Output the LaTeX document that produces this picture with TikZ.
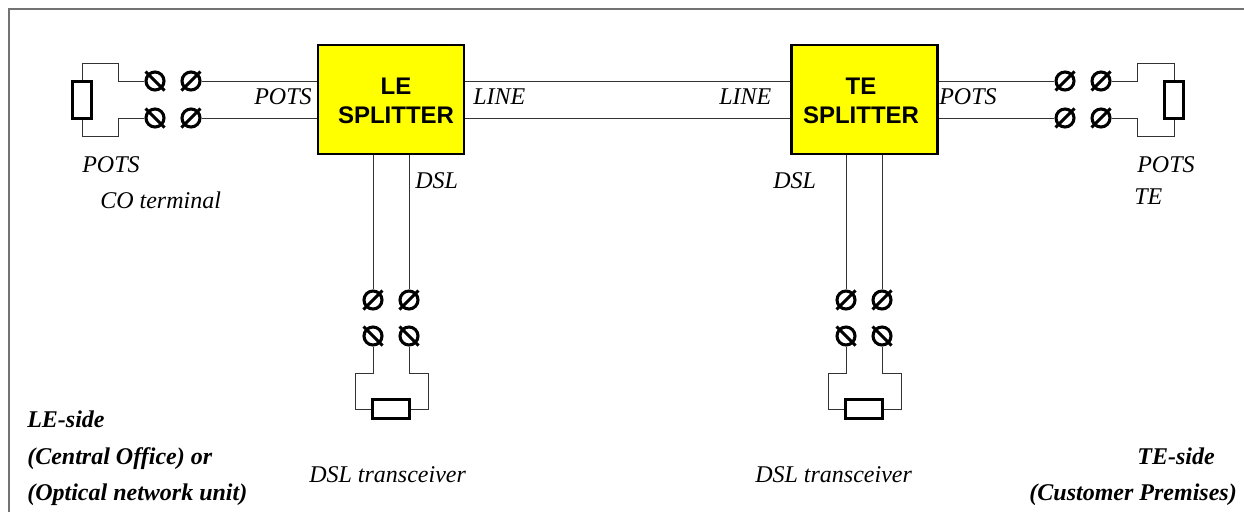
\documentclass[tikz,border=0pt]{standalone}
\usepackage{fontspec}
\setmainfont{Liberation Serif}
\setsansfont{Liberation Sans}
\newcommand{\PX}{0.75pt}
\definecolor{pureyellow}{RGB}{255,255,0}
\tikzset{
  x=0.75pt,y=-0.75pt,
  wire/.style={draw=black!80,line width=0.75pt},
  res/.style={draw=black,fill=white,line width=2.2pt,inner sep=0pt,rectangle},
  splitter/.style={draw=black,fill=pureyellow,line width=2.1pt,minimum width=146*\PX,minimum height=109*\PX,inner sep=0pt},
  splittext/.style={inner sep=0pt,align=center,font=\sffamily\bfseries\fontsize{18}{21.75}\selectfont},
  lab/.style={font=\itshape\fontsize{18}{21}\selectfont,inner sep=0pt,anchor=base west},
  blab/.style={font=\bfseries\itshape\fontsize{18}{21}\selectfont,inner sep=0pt},
  term/.style={circle,draw=black,line width=2.3pt,minimum size=18*\PX,inner sep=0pt,fill=white},
  slash/.style={draw=black,line width=2.3pt}
}
\newcommand{\termb}[2]{\node[term] (#1) at (#2) {}; \draw[slash] ([xshift=-9.5*\PX,yshift=-9.5*\PX]#1.center) -- ([xshift=9.5*\PX,yshift=9.5*\PX]#1.center);}
\newcommand{\termf}[2]{\node[term] (#1) at (#2) {}; \draw[slash] ([xshift=-9.5*\PX,yshift=9.5*\PX]#1.center) -- ([xshift=9.5*\PX,yshift=-9.5*\PX]#1.center);}
\begin{document}
\begin{tikzpicture}
\useasboundingbox (0,0) rectangle (1244,512);
\coordinate (fa) at (9,512);
\coordinate (fb) at (9,9);
\coordinate (fc) at (1244,9);
\draw[draw=black!55,line width=1pt] (fa) -- (fb) -- (fc);
\node[splitter] (le) at (391,99.5) {};
\node[splitter] (te) at (864.5,99.5) {};
\node[splittext] (letext) at (396,100.5) {LE\\SPLITTER};
\node[splittext] (tetext) at (861,100.5) {TE\\SPLITTER};
% terminals
\termf{a1}{155,81}\termf{a2}{155,118}
\termb{b1}{191,81}\termb{b2}{191,118}
\termb{c1}{1065,81}\termb{c2}{1065,118}\termb{d1}{1101,81}\termb{d2}{1101,118}
\termb{e1}{373,300}\termb{e2}{409,300}\termf{f1}{373,336}\termf{f2}{409,336}
\termb{g1}{846,300}\termb{g2}{882,300}\termf{h1}{846,336}\termf{h2}{882,336}
% resistors
\node[res,minimum width=19*\PX,minimum height=37*\PX] (r1) at (82,100) {};
\node[res,minimum width=19*\PX,minimum height=37*\PX] (r2) at (1174,100) {};
\node[res,minimum width=37*\PX,minimum height=19*\PX] (r3) at (391,409) {};
\node[res,minimum width=37*\PX,minimum height=19*\PX] (r4) at (864,409) {};
% wires
\draw[wire] (b1) -- (b1-|le.west);
\draw[wire] (b2) -- (b2-|le.west);
\draw[wire] (le.east|-a1) -- (te.west|-a1);
\draw[wire] (le.east|-a2) -- (te.west|-a2);
\draw[wire] (te.east|-c1) -- (c1);
\draw[wire] (te.east|-c2) -- (c2);
\draw[wire] (le.south-|e1) -- (e1);
\draw[wire] (le.south-|e2) -- (e2);
\draw[wire] (te.south-|g1) -- (g1);
\draw[wire] (te.south-|g2) -- (g2);
\draw[wire] (a1) -- (118,81) -- (118,63) -- (82,63) -- (r1.north);
\draw[wire] (a2) -- (118,118) -- (118,136) -- (82,136) -- (r1.south);
\draw[wire] (d1) -- (1137,81) -- (1137,63) -- (1174,63) -- (r2.north);
\draw[wire] (d2) -- (1137,118) -- (1137,136) -- (1174,136) -- (r2.south);
\draw[wire] (f1) -- (373,373) -- (355,373) -- (355,409) -- (r3.west);
\draw[wire] (f2) -- (409,373) -- (428,373) -- (428,409) -- (r3.east);
\draw[wire] (h1) -- (846,373) -- (828,373) -- (828,409) -- (r4.west);
\draw[wire] (h2) -- (882,373) -- (901,373) -- (901,409) -- (r4.east);
% labels
\node[lab] (t1) at (254,104) {POTS};
\node[lab] (t2) at (473,104) {LINE};
\node[lab] (t3) at (719,104) {LINE};
\node[lab] (t4) at (939,104) {POTS};
\node[lab] (t5) at (82,172) {POTS};
\node[lab] (t6) at (100,208.5) {CO terminal};
\node[lab] (t7) at (1137,172) {POTS};
\node[lab] (t8) at (1134,204) {TE};
\node[lab] (t9) at (415,188) {DSL};
\node[lab] (t10) at (773,188) {DSL};
\node[lab] (t11) at (309,482) {DSL transceiver};
\node[lab] (t12) at (755,482) {DSL transceiver};
\node[blab,anchor=base west] (t13) at (27,427) {LE-side};
\node[blab,anchor=base west] (t14) at (27,464) {(Central Office) or};
\node[blab,anchor=base west] (t15) at (27,500) {(Optical network unit)};
\node[blab,anchor=base east] (t16) at (1215,464) {TE-side};
\node[blab,anchor=base east] (t17) at (1237,500) {(Customer Premises)};
\end{tikzpicture}
\end{document}
